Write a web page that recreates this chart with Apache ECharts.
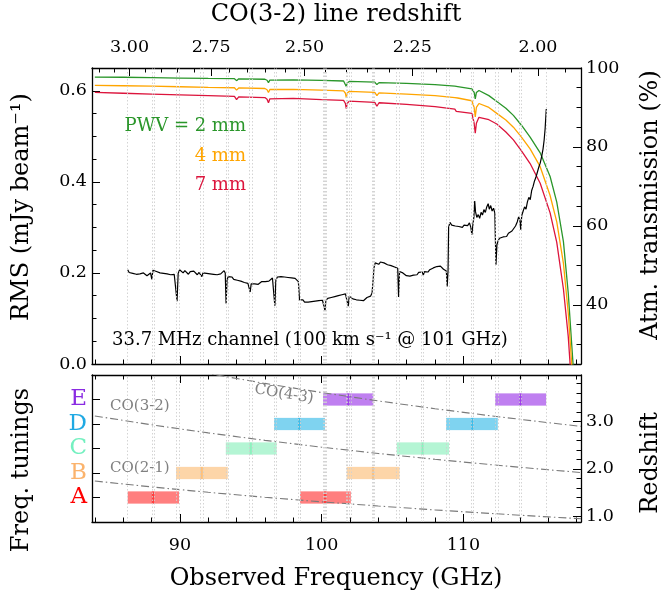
<!DOCTYPE html>
<html><head><meta charset="utf-8">
<script src="https://cdn.jsdelivr.net/npm/echarts@6/dist/echarts.min.js"></script>
<style>html,body{margin:0;padding:0;background:#fff}#c{width:668px;height:596px}</style>
</head><body><div id="c"></div>
<script>
// ---------------- data ----------------
const freqMin = 83.8, freqMax = 118.3;
const CO32_REST = 345.796;

const rmsFreq = [86.32,86.42,86.55,86.68,86.8,86.93,87.05,87.18,87.3,87.43,87.55,87.68,87.8,87.93,88.02,88.1,88.22,88.35,88.48,88.6,88.73,88.85,88.98,89.1,89.23,89.35,89.48,89.6,89.72,89.8,89.88,89.98,90.1,90.23,90.35,90.48,90.6,90.73,90.85,90.98,91.1,91.23,91.35,91.48,91.55,91.63,91.75,91.88,92.0,92.13,92.25,92.38,92.5,92.63,92.75,92.88,93.0,93.12,93.2,93.26,93.33,93.42,93.55,93.68,93.8,93.93,94.05,94.18,94.3,94.43,94.55,94.68,94.8,94.9,94.96,95.03,95.15,95.28,95.4,95.53,95.65,95.78,95.9,96.03,96.15,96.28,96.4,96.53,96.63,96.7,96.77,96.88,97.0,97.13,97.25,97.38,97.5,97.63,97.75,97.88,98.0,98.13,98.25,98.36,98.44,98.55,98.68,98.8,98.93,99.05,99.18,99.3,99.43,99.55,99.68,99.8,99.93,100.06,100.18,100.24,100.3,100.43,100.55,100.68,100.8,100.93,101.05,101.18,101.3,101.43,101.55,101.68,101.8,101.88,101.95,102.08,102.2,102.33,102.45,102.58,102.7,102.83,102.95,103.08,103.2,103.33,103.45,103.56,103.64,103.7,103.78,103.9,104.03,104.15,104.28,104.4,104.53,104.65,104.78,104.9,105.03,105.15,105.28,105.37,105.43,105.5,105.6,105.73,105.85,105.98,106.1,106.23,106.35,106.48,106.6,106.73,106.85,106.98,107.1,107.18,107.25,107.38,107.5,107.63,107.75,107.88,108.0,108.13,108.25,108.38,108.5,108.6,108.7,108.8,108.86,108.92,108.96,109.05,109.18,109.3,109.43,109.55,109.68,109.8,109.93,110.05,110.18,110.3,110.43,110.53,110.6,110.67,110.74,110.8,110.86,110.95,111.05,111.15,111.25,111.35,111.45,111.55,111.65,111.75,111.83,111.93,112.03,112.13,112.22,112.3,112.37,112.45,112.55,112.68,112.8,112.93,113.05,113.18,113.3,113.43,113.55,113.68,113.8,113.9,113.98,114.05,114.12,114.22,114.32,114.42,114.52,114.62,114.72,114.82,114.92,115.02,115.12,115.22,115.32,115.42,115.52,115.62,115.7,115.77,115.85];
const rmsValue = [0.207,0.201,0.204,0.199,0.202,0.197,0.201,0.198,0.196,0.200,0.197,0.194,0.198,0.200,0.186,0.206,0.209,0.203,0.205,0.200,0.203,0.199,0.202,0.198,0.200,0.196,0.199,0.197,0.200,0.138,0.199,0.207,0.203,0.200,0.205,0.201,0.197,0.203,0.199,0.204,0.200,0.196,0.201,0.197,0.192,0.200,0.196,0.199,0.195,0.198,0.194,0.197,0.193,0.196,0.194,0.198,0.201,0.205,0.200,0.133,0.186,0.192,0.189,0.191,0.186,0.189,0.184,0.186,0.182,0.184,0.179,0.181,0.177,0.175,0.158,0.176,0.179,0.176,0.178,0.175,0.178,0.181,0.178,0.181,0.184,0.182,0.186,0.189,0.185,0.128,0.184,0.191,0.188,0.192,0.189,0.191,0.187,0.190,0.186,0.189,0.185,0.188,0.184,0.181,0.141,0.138,0.141,0.136,0.139,0.136,0.140,0.137,0.141,0.138,0.142,0.139,0.143,0.140,0.136,0.117,0.139,0.144,0.141,0.146,0.143,0.148,0.145,0.150,0.147,0.152,0.149,0.154,0.150,0.127,0.149,0.146,0.143,0.146,0.141,0.144,0.140,0.143,0.139,0.143,0.146,0.144,0.149,0.156,0.160,0.212,0.222,0.226,0.219,0.224,0.228,0.222,0.225,0.218,0.222,0.216,0.219,0.213,0.215,0.210,0.147,0.203,0.206,0.200,0.197,0.194,0.198,0.193,0.197,0.195,0.199,0.196,0.201,0.198,0.202,0.195,0.203,0.206,0.202,0.207,0.204,0.211,0.208,0.214,0.210,0.215,0.211,0.208,0.210,0.204,0.170,0.205,0.300,0.311,0.305,0.309,0.303,0.307,0.302,0.306,0.300,0.305,0.309,0.304,0.310,0.300,0.284,0.305,0.322,0.358,0.334,0.322,0.328,0.320,0.333,0.327,0.339,0.333,0.345,0.352,0.340,0.348,0.336,0.342,0.332,0.218,0.262,0.270,0.276,0.272,0.279,0.283,0.280,0.287,0.284,0.292,0.289,0.303,0.312,0.323,0.317,0.295,0.326,0.336,0.345,0.340,0.356,0.366,0.361,0.381,0.390,0.402,0.410,0.421,0.432,0.441,0.455,0.472,0.492,0.517,0.560];

const atmFreq  = [84,86,88,90,92,93.85,94.0,94.15,96,96.15,96.25,96.35,98,100,101.55,101.68,101.74,101.8,101.95,103.75,103.9,104.05,106,108,109.4,109.5,109.6,110.6,110.76,110.84,110.92,111.1,111.8,112.36,113,113.53,114.1,114.71,115.42,116.12,116.59,117.06,117.4,117.7,118.0];
const atmPwv2  = [97.7,97.65,97.55,97.45,97.35,97.3,96.8,97.25,97.15,96.9,96.3,96.95,97.0,96.85,96.7,96.2,95.3,96.2,96.6,96.4,95.8,96.3,96.1,95.8,95.4,95.0,95.3,94.7,93.8,92.2,93.8,94.3,93.0,91.5,89.8,88.0,85.5,82.5,78.5,72.5,66,56,43,27,12];
const atmPwv4  = [95.6,95.5,95.4,95.25,95.1,95.0,94.4,94.95,94.8,94.5,93.8,94.55,94.6,94.4,94.2,93.6,92.5,93.6,94.1,93.8,93.0,93.7,93.4,93.0,92.5,92.0,92.4,91.7,90.0,87.6,90.0,91.0,90.0,88.5,86.8,85.0,82.5,79.5,75.0,67.7,61,50.5,38,22,8];
const atmPwv7  = [93.8,93.6,93.4,93.2,93.0,92.8,92.0,92.7,92.5,92.1,91.2,92.2,92.3,92.0,91.8,91.0,89.7,91.0,91.6,91.3,90.3,91.2,90.8,90.2,89.6,89.0,89.5,88.5,86.0,83.5,86.0,87.5,86.9,85.8,83.8,81.8,79.0,75.8,70.8,63.3,55.8,44,32,16,3];

const tuningNames = ['A','B','C','D','E'];
const tuningLabelColors = ['#ff0000','#fbb36c','#74f0c0','#1fa9e3','#8a2be2'];
const tuningBarColors = ['rgba(255,0,0,0.5)','rgba(251,171,81,0.5)','rgba(105,235,169,0.5)','rgba(0,167,225,0.5)','rgba(127,0,225,0.5)'];
const windowTuning = [0,0,0,0, 1,1,1,1, 2,2,2,2, 3,3,3,3, 4,4,4,4];
const windowLo = [86.32,88.02,98.48,100.17, 89.73,91.46,101.77,103.55, 93.24,94.92,105.30,107.04, 96.64,98.34,108.78,110.55, 100.10,101.80,112.24,113.95];
const windowHi = [88.18,89.94,100.33,102.06, 91.62,93.38,103.70,105.50, 95.08,96.83,107.20,108.99, 98.50,100.24,110.70,112.43, 101.96,103.65,114.10,115.84];

const coLineFreq = [84,88,92,96,100,104,108,112,116,118.3];
const co21Z = [1.7445,1.6197,1.5058,1.4014,1.3054,1.2167,1.1346,1.0584,0.9874,0.9487];
const co32Z = [3.1166,2.9295,2.7587,2.6020,2.4580,2.3250,2.2018,2.0875,1.9810,1.9230];
const co43Z = [4.4886,4.2391,4.0113,3.8025,3.6104,3.4331,3.2689,3.1164,2.9745,2.8972];

const freqMajorTicks = [90,100,110];
const freqMinorTicks = [84,86,88,92,94,96,98,102,104,106,108,112,114,116,118];
const topZMajor = [3.00,2.75,2.50,2.25,2.00];
const topZMinor = [3.10,3.05,2.95,2.90,2.85,2.80,2.70,2.65,2.60,2.55,2.45,2.40,2.35,2.30,2.20,2.15,2.10,2.05,1.95];
const rmsMajor = [0,0.2,0.4,0.6];
const rmsMinor = [0.05,0.1,0.15,0.25,0.3,0.35,0.45,0.5,0.55];
const atmMajor = [40,60,80,100];
const atmMinor = [30,35,45,50,55,65,70,75,85,90,95];
const zMajor = [1,2,3];
const zMinor = [1.2,1.4,1.6,1.8,2.2,2.4,2.6,2.8,3.2,3.4,3.6,3.8];
const rmsRange = [0, 0.65], atmRange = [25, 100], zRange = [0.88, 3.98], tunRange = [-1, 5];

// ---------------- chart ----------------
const FONT = 'DejaVu Serif';
const BLACK = '#000';
const MAJ = 8, MIN = 4.5;
const zToFreq = z => CO32_REST / (1 + z);

function ax(base) {
  return Object.assign({type:'value', splitLine:{show:false}, axisPointer:{show:false}}, base);
}
function tickAxis(gridIndex, position, min, max, ticks, len, withLine, label) {
  return ax({
    gridIndex, position, min, max,
    axisLine:{show:withLine, onZero:false, lineStyle:{color:BLACK, width:1.3}},
    axisTick:{show:true, inside:true, length:len, customValues:ticks, lineStyle:{color:BLACK, width:1}},
    axisLabel: label ? label : {show:false}
  });
}
const lblStyle = (extra) => Object.assign({show:true, fontFamily:FONT, fontSize:17.5, color:BLACK}, extra);

const xAxes = [
  tickAxis(0,'bottom',freqMin,freqMax,freqMajorTicks,MAJ,true,null),
  tickAxis(0,'bottom',freqMin,freqMax,freqMinorTicks,MIN,false,null),
  tickAxis(0,'top',freqMin,freqMax,topZMajor.map(zToFreq),MAJ,true,
     lblStyle({customValues:topZMajor.map(zToFreq), margin:12, formatter:v => (CO32_REST / v - 1).toFixed(2)})),
  tickAxis(0,'top',freqMin,freqMax,topZMinor.map(zToFreq),MIN,false,null),
  tickAxis(1,'bottom',freqMin,freqMax,freqMajorTicks,MAJ,true,
     lblStyle({customValues:freqMajorTicks, margin:14})),
  tickAxis(1,'bottom',freqMin,freqMax,freqMinorTicks,MIN,false,null),
  tickAxis(1,'top',freqMin,freqMax,freqMajorTicks,MAJ,true,null),
  tickAxis(1,'top',freqMin,freqMax,freqMinorTicks,MIN,false,null)
];
const yAxes = [
  tickAxis(0,'left',rmsRange[0],rmsRange[1],rmsMajor,MAJ,true,
     lblStyle({customValues:rmsMajor, margin:5, formatter:v => (+v).toFixed(1)})),
  tickAxis(0,'left',rmsRange[0],rmsRange[1],rmsMinor,MIN,false,null),
  tickAxis(0,'right',atmRange[0],atmRange[1],atmMajor,MAJ,true,
     lblStyle({customValues:atmMajor, margin:5})),
  tickAxis(0,'right',atmRange[0],atmRange[1],atmMinor,MIN,false,null),
  tickAxis(1,'left',tunRange[0],tunRange[1],[0,1,2,3,4],MAJ,true,
     lblStyle({customValues:[0,1,2,3,4], margin:5, fontSize:23,
       formatter:v => tuningNames[Math.round(v)],
       color:(v) => tuningLabelColors[Math.round(+v)]})),
  tickAxis(1,'right',zRange[0],zRange[1],zMajor,MAJ,true,
     lblStyle({customValues:zMajor, margin:5, formatter:v => (+v).toFixed(1)})),
  tickAxis(1,'right',zRange[0],zRange[1],zMinor,MIN,false,null)
];

const edges = windowLo.concat(windowHi);
const vLineStyle = {type:[1.5,2], color:'#cfcfcf', width:0.9};
function vLines(xi, yi) {
  return {type:'line', xAxisIndex:xi, yAxisIndex:yi, data:[], silent:true, z:1,
    markLine:{silent:true, symbol:['none','none'], label:{show:false}, animation:false,
      lineStyle:vLineStyle, emphasis:{disabled:true},
      data: edges.map(v => ({xAxis:v}))}};
}
const zip = (a, b) => a.map((v, i) => [v, b[i]]);
const dashDot = [8,3,1.5,3];

const series = [
  vLines(0,0),
  vLines(4,4),
  {type:'line', name:'PWV 2mm', xAxisIndex:0, yAxisIndex:2, data:zip(atmFreq, atmPwv2), showSymbol:false, symbol:'none',
   lineStyle:{color:'#2a962a', width:1.3}, z:3, animation:false, clip:true},
  {type:'line', name:'PWV 4mm', xAxisIndex:0, yAxisIndex:2, data:zip(atmFreq, atmPwv4), showSymbol:false, symbol:'none',
   lineStyle:{color:'#ffa500', width:1.3}, z:3, animation:false, clip:true},
  {type:'line', name:'PWV 7mm', xAxisIndex:0, yAxisIndex:2, data:zip(atmFreq, atmPwv7), showSymbol:false, symbol:'none',
   lineStyle:{color:'#dc143c', width:1.3}, z:3, animation:false, clip:true},
  {type:'line', name:'RMS', xAxisIndex:0, yAxisIndex:0, data:zip(rmsFreq, rmsValue), showSymbol:false, symbol:'none',
   lineStyle:{color:'#000', width:1.2}, z:4, animation:false},
  {type:'custom', name:'tunings', xAxisIndex:4, yAxisIndex:4, z:3, animation:false,
   data: windowLo.map((lo, i) => [lo, windowHi[i], windowTuning[i]]),
   encode:{x:[0,1], y:2},
   renderItem:(params, api) => {
     const lo = api.value(0), hi = api.value(1), t = api.value(2);
     const p0 = api.coord([lo, t]), p1 = api.coord([hi, t]);
     const h = api.size([0, 0.5])[1];
     return {type:'rect', shape:{x:p0[0], y:p0[1]-h/2, width:p1[0]-p0[0], height:h},
             style:{fill:tuningBarColors[t]}};
   }},
  {type:'line', name:'CO(2-1)', xAxisIndex:4, yAxisIndex:5, data:zip(coLineFreq, co21Z), showSymbol:false, symbol:'none',
   lineStyle:{color:'#7a7a7a', width:1.1, type:dashDot}, z:4, animation:false, clip:true},
  {type:'line', name:'CO(3-2)', xAxisIndex:4, yAxisIndex:5, data:zip(coLineFreq, co32Z), showSymbol:false, symbol:'none',
   lineStyle:{color:'#7a7a7a', width:1.1, type:dashDot}, z:4, animation:false, clip:true},
  {type:'line', name:'CO(4-3)', xAxisIndex:4, yAxisIndex:5, data:zip(coLineFreq, co43Z), showSymbol:false, symbol:'none',
   lineStyle:{color:'#7a7a7a', width:1.1, type:dashDot}, z:4, animation:false, clip:true}
];

function txt(x, y, text, size, color, align, rot) {
  const st = {text, font: size + 'px "' + FONT + '"', fill: color,
    align: align || 'center', verticalAlign:'middle', textAlign: align || 'center', textVerticalAlign:'middle'};
  const e = {type:'text', x, y, style:st, silent:true, z:100};
  if (rot) e.rotation = rot;
  return e;
}

const graphics = [
  txt(336, 15, 'CO(3-2) line redshift', 24, BLACK),
  txt(336, 579, 'Observed Frequency (GHz)', 24, BLACK),
  txt(22, 207, 'RMS (mJy beam\u207B\u00B9)', 24, BLACK, 'center', Math.PI/2),
  txt(651, 205, 'Atm. transmission (%)', 24, BLACK, 'center', Math.PI/2),
  txt(22, 470, 'Freq. tunings', 24, BLACK, 'center', Math.PI/2),
  txt(651, 463, 'Redshift', 24, BLACK, 'center', Math.PI/2),
  txt(246, 126, 'PWV = 2 mm', 18, '#2a962a', 'right'),
  txt(246, 156, '4 mm', 18, '#ffa500', 'right'),
  txt(246, 185, '7 mm', 18, '#dc143c', 'right'),
  txt(112, 340, '33.7 MHz channel (100 km s\u207B\u00B9 @ 101 GHz)', 18, BLACK, 'left'),
  txt(110, 406, 'CO(3-2)', 15, '#808080', 'left'),
  txt(110, 468, 'CO(2-1)', 15, '#808080', 'left'),
  txt(284, 394, 'CO(4-3)', 15, '#808080', 'center', -0.16)
];

const chart = echarts.init(document.getElementById('c'), null, {renderer:'canvas'});
chart.setOption({
  animation:false,
  backgroundColor:'#fff',
  grid:[
    {left:92, right:87, top:68, height:296, outerBoundsMode:'none', containLabel:false},
    {left:92, right:87, top:375, height:147, outerBoundsMode:'none', containLabel:false}
  ],
  xAxis:xAxes,
  yAxis:yAxes,
  series,
  graphic:graphics
});
</script></body></html>
